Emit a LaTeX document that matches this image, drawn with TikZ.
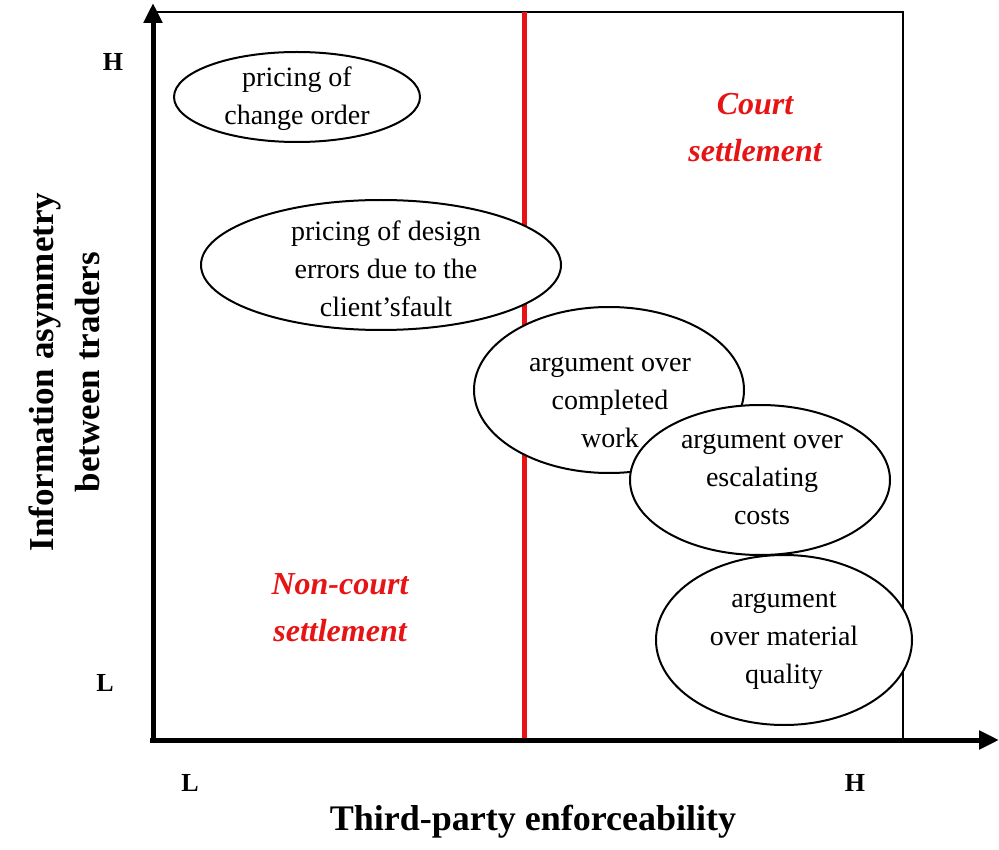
\documentclass[tikz,border=0pt]{standalone}
\usepackage{fontspec}
\setmainfont{Liberation Serif}
\usetikzlibrary{arrows.meta}
\definecolor{myred}{RGB}{230,20,20}
\begin{document}
\begin{tikzpicture}[x=1pt,y=-1pt,
  ell/.style={draw,line width=2pt,fill=white},
  etxt/.style={align=center,font=\fontsize{28}{38}\selectfont},
  tick/.style={font=\fontsize{26}{30}\selectfont\bfseries},
  region/.style={text=myred,align=center,font=\fontsize{32}{47}\selectfont\bfseries\itshape}]
\useasboundingbox (0,0) rectangle (999,850);
\coordinate (o) at (153,740);
\coordinate (ytop) at (153,3);
\coordinate (xend) at (999,740);
\draw[line width=1.2pt] (153,12) -- (903,12) -- (903,740);
\draw[line width=5pt,myred] (524,12) -- (524,740);
\draw[line width=5pt,-{Triangle[length=20pt,width=18pt]}] (o) -- (ytop);
\draw[line width=5pt,-{Triangle[length=20pt,width=18pt]}] (150,740) -- (xend);
\draw[ell] (297,97) ellipse (123 and 45);
\node[etxt] (e1) at (297,99) {pricing of\\change order};
\draw[ell] (381,265) ellipse (180 and 65);
\node[etxt] (e2) at (386,269) {pricing of design\\errors due to the\\client'sfault};
\draw[ell] (609,390) ellipse (135 and 83);
\node[etxt] (e3) at (610,402) {argument over\\completed\\work};
\draw[ell] (760,480) ellipse (130 and 75);
\node[etxt] (e4) at (762,479) {argument over\\escalating\\costs};
\draw[ell] (784,640) ellipse (128 and 85);
\node[etxt] (e5) at (784,641) {argument\\over material\\quality};
\node[region] (cs) at (755,128) {Court\\settlement};
\node[region] (ncs) at (340,608) {Non-court\\settlement};
\node[tick] (yh) at (113,62) {H};
\node[tick] (yl) at (105,683) {L};
\node[tick] (xl) at (190,783) {L};
\node[tick] (xh) at (855,783) {H};
\node[font=\fontsize{36}{40}\selectfont\bfseries] (xt) at (533,822) {Third-party enforceability};
\node[rotate=90,align=center,font=\fontsize{35}{46}\selectfont\bfseries] (yt) at (64,372) {Information asymmetry\\between traders};
\end{tikzpicture}
\end{document}
